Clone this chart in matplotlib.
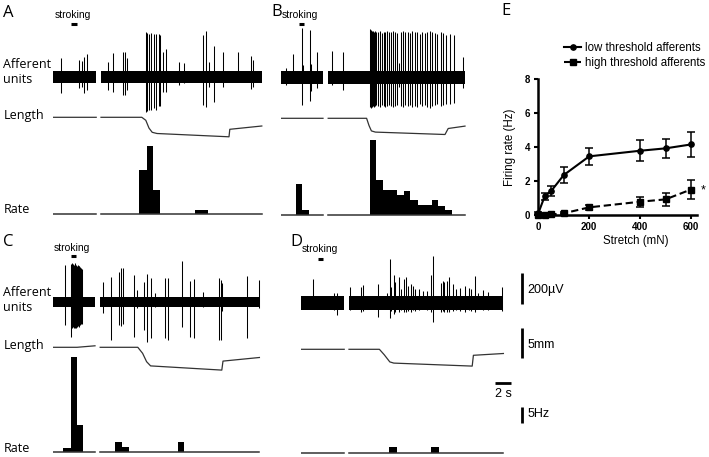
import matplotlib.pyplot as plt
import numpy as np

plt.rcParams['font.family'] = ['Liberation Sans', 'DejaVu Sans']
LABEL_FONT = ['Open Sans', 'DejaVu Sans']

# ---------------- data ----------------
# panel A  (time in s, spikes in uV, length in mm, rate in Hz)
a_segments = [(0.0, 5.4), (6.0, 26.1)]
a_stroke = (2.25, 2.95)
a_spike_t = [1.0, 3.25, 3.6, 3.9, 4.25,
             6.9, 7.5, 8.75, 9.0, 9.25,
             11.6, 11.8, 12.05, 12.3, 12.6, 12.9, 13.2, 13.4,
             13.75, 14.1, 15.75, 16.4, 18.75, 19.1, 19.5, 20.1, 21.25, 23.1, 24.75, 25.0]
a_spike_up = [125, 110, 105, 130, 150,
              95, 155, 160, 160, 125,
              290, 285, 280, 285, 280, 275, 280, 270,
              160, 180, 95, 90, 270, 295, 95, 200, 160, 160, 135, 110]
a_spike_dn = [-105, -70, -65, -105, -85,
              -85, -95, -115, -115, -85,
              -225, -220, -210, -215, -200, -210, -190, -185,
              -95, -95, -50, -40, -180, -195, -65, -160, -65, -35, -75, -65]
a_len_t = [0.0, 5.4, np.nan, 6.0, 11.1, 11.6, 12.0, 12.4, 13.0, 22.0, 22.1, 26.1]
a_len_mm = [0, 0, np.nan, 0, 0, -0.5, -1.8, -2.5, -2.7, -3.25, -2.0, -1.45]
a_rate_edges = [10.75, 11.75, 12.5, 13.4, 17.75, 19.4]
a_rate_hz = [13.2, 20.4, 7.2, 0, 1.2]

# panel B
b_segments = [(0.0, 5.25), (5.9, 23.0)]
b_stroke = (2.25, 2.9)
b_spike_t = [0.66, 1.5, 2.6, 2.75, 3.6, 3.8, 4.55, 6.4, 7.75,
             11.08, 11.2, 11.33, 11.46, 11.58, 11.71, 11.92, 12.13, 12.33, 12.63,
             12.88, 13.04, 13.25, 13.5, 13.79, 14.0, 14.21, 14.46, 14.71, 14.96,
             15.25, 15.54, 15.88, 16.13, 16.38, 16.71, 17.04, 17.33, 17.63, 17.96,
             18.25, 18.58, 18.88, 19.21, 19.54, 19.96, 20.25, 20.67, 21.08, 21.63,
             22.75]
b_spike_up = [60, 150, 315, 80, 305, 85, 165, 170, 160,
              310, 305, 300, 300, 295, 300, 290, 295, 300, 285,
              290, 295, 300, 290, 295, 300, 290, 285, 90, 295,
              300, 290, 295, 285, 300, 290, 295, 280, 290, 285,
              295, 300, 290, 285, 280, 290, 285, 275, 280, 270,
              130]
b_spike_dn = [-50, -20, -180, -30, -150, -90, -70, -50, -85,
              -190, -195, -190, -185, -190, -185, -180, -185, -190, -180,
              -185, -190, -185, -180, -185, -190, -185, -180, -60, -185,
              -190, -180, -185, -180, -190, -185, -190, -175, -185, -180,
              -190, -195, -185, -180, -175, -185, -180, -170, -175, -165,
              -70]
b_len_t = [0.0, 5.25, np.nan, 5.9, 10.7, 11.0, 11.3, 11.8, 20.5, 20.9, 23.0]
b_len_mm = [0, 0, np.nan, 0, 0, -1.2, -2.1, -2.3, -2.7, -1.7, -1.3]
b_rate_edges = [1.9, 2.6, 3.5, 11.1, 11.9, 12.75, 14.5, 15.4, 16.1, 17.1, 18.9, 19.6, 20.5, 21.4]
b_rate_hz = [9.3, 1.5, 0, 22.5, 10.5, 7.5, 6.0, 7.2, 4.5, 3.0, 4.5, 2.7, 1.5]

# panel C
c_segments = [(0.0, 5.25), (5.9, 25.8)]
c_stroke = (2.2, 2.9)
c_spike_t = [1.5, 2.2, 2.3, 2.4, 2.5, 2.6, 2.7, 2.8, 2.9, 3.0, 3.1, 3.2, 3.3, 3.4, 3.5, 3.6,
             6.2, 7.25, 8.29, 8.5, 8.79, 10.17, 10.46, 11.4, 11.79, 12.25, 12.75,
             14.0, 14.4, 16.1, 17.1, 17.6, 18.8, 20.7, 20.96, 21.1, 24.2, 25.7]
c_spike_up = [240, 235, 245, 250, 245, 240, 250, 245, 240, 235, 240, 230, 235, 225, 220, 210,
              127, 163, 195, 217, 220, 174, 77, 131, 180, 157, 56,
              153, 153, 265, 135, 148, 66, 157, 142, 122, 170, 142]
c_spike_dn = [-150, -160, -225, -165, -160, -165, -160, -170, -165, -160, -155, -160, -150, -150, -145, -140,
              -73, -245, -148, -155, -140, -224, -40, -180, -255, -235, -35,
              -235, -245, -160, -224, -235, -35, -245, -245, -60, -235, -40]
c_len_t = [0.0, 3.0, 5.25, np.nan, 5.9, 10.6, 11.2, 11.7, 12.2, 21.1, 21.25, 25.8]
c_len_mm = [0, 0, 0.25, np.nan, 0, 0, -1.0, -2.4, -3.1, -3.8, -2.3, -1.7]
c_rate_edges = [1.2, 2.2, 2.95, 3.8, 7.75, 8.6, 9.5, 15.6, 16.4]
c_rate_hz = [1.0, 28.5, 8.0, 0, 2.8, 1.3, 0, 2.8]

# panel D
d_segments = [(0.0, 5.4), (6.0, 25.3)]
d_stroke = (2.1, 2.8)
d_spike_t = [1.54, 3.0, 4.17, 4.5,
             6.1, 7.5, 7.7, 9.6, 10.7, 11.1, 11.3, 11.6, 11.8, 12.2,
             12.5, 12.85, 13.1, 13.4, 13.75, 14.0, 14.3, 14.7, 15.3, 15.7,
             16.3, 16.55, 17.5, 17.7, 17.9, 18.2, 18.5, 19.0, 19.4, 19.9,
             20.5, 21.0, 21.3, 21.75, 22.1, 22.7, 23.4, 24.3, 25.1]
d_spike_up = [155, 45, 65, 65,
              105, 106, 114, 120, 65, 284, 105, 180, 137, 170,
              90, 155, 165, 110, 120, 110, 90, 90, 75, 80,
              180, 300, 130, 140, 135, 145, 165, 120, 90, 95,
              110, 95, 90, 175, 65, 85, 70, 45, 105]
d_spike_dn = [-40, -35, -45, -75,
              -45, -60, -50, -88, -40, -95, -50, -70, -55, -60,
              -45, -55, -60, -50, -55, -45, -50, -45, -40, -45,
              -60, -120, -55, -50, -60, -55, -60, -50, -45, -50,
              -55, -45, -50, -60, -40, -45, -45, -40, -50]
d_len_t = [0.0, 5.4, np.nan, 6.0, 9.8, 10.4, 11.1, 11.6, 21.4, 21.55, 25.3]
d_len_mm = [0, 0, np.nan, 0, 0, -0.9, -2.1, -2.3, -2.8, -1.0, -0.7]
d_rate_edges = [11.0, 12.0, 16.25, 17.2]
d_rate_hz = [1.8, 0, 1.8]

# scale bars
scale_uv, scale_mm, scale_s, scale_hz = 200, 5, 2, 5

# panel E
stretch = [0, 25, 50, 100, 200, 400, 500, 600]
low_mean = [0.1, 1.1, 1.4, 2.35, 3.45, 3.78, 3.92, 4.15]
low_err = [0.05, 0.2, 0.3, 0.45, 0.5, 0.62, 0.58, 0.75]
high_mean = [0.0, 0.02, 0.03, 0.1, 0.45, 0.78, 0.92, 1.5]
high_err = [0.0, 0.02, 0.02, 0.05, 0.15, 0.28, 0.4, 0.58]

# ---------------- layout (pixels) ----------------
W, H = 709, 457
PX_S = 8.0          # px per second
UV_PX = 6.45        # uV per px
MM_PX = 1 / 6.0     # mm per px
HZ_PX = 0.3         # Hz per px
T_SPAN = 30

fig = plt.figure(figsize=(W / 100, H / 100), dpi=100)


def ftext(x, y, s, **kw):
    return fig.text(x / W, 1 - y / H, s, **kw)


def row_axes(x0, y_base, px_above, px_below, per_px):
    ax = fig.add_axes([x0 / W, 1 - (y_base + px_below) / H,
                       T_SPAN * PX_S / W, (px_above + px_below) / H])
    ax.set_xlim(0, T_SPAN)
    ax.set_ylim(-px_below * per_px, px_above * per_px)
    ax.axis('off')
    return ax


def draw_panel(p, segs, stroke, sp_t, sp_up, sp_dn, len_t, len_mm, r_edges, r_hz):
    ax_u = row_axes(p['x0'], p['yu'], 62, 45, UV_PX)
    for t0, t1 in segs:
        ax_u.fill_between([t0, t1], -p['noise'], p['noise'], color='black', lw=0)
    ax_u.vlines(sp_t, sp_dn, sp_up, color='black', lw=0.75)
    ys = (p['yu'] - p['stroke_y']) * UV_PX
    ax_u.plot(stroke, [ys, ys], color='black', lw=2.2, solid_capstyle='butt')

    ax_l = row_axes(p['x0'], p['yl'], 25, 30, MM_PX)
    ax_l.plot(len_t, len_mm, color='#333333', lw=0.9)

    ax_r = row_axes(p['x0'], p['yr'], 100, 4, HZ_PX)
    for t0, t1 in segs:
        ax_r.plot([t0, t1], [0, 0], color='#333333', lw=1.1)
    ax_r.stairs(r_hz, r_edges, fill=True, color='black', lw=0)
    return ax_u, ax_l, ax_r


pA = dict(x0=53, yu=77, yl=117.3, yr=214, noise=40, stroke_y=24)
pB = dict(x0=281, yu=77.3, yl=118.3, yr=215, noise=41, stroke_y=24)
pC = dict(x0=53, yu=302, yl=347.3, yr=451.7, noise=35, stroke_y=256)
pD = dict(x0=301, yu=303, yl=349.3, yr=453.3, noise=43, stroke_y=259)

draw_panel(pA, a_segments, a_stroke, a_spike_t, a_spike_up, a_spike_dn,
           a_len_t, a_len_mm, a_rate_edges, a_rate_hz)
draw_panel(pB, b_segments, b_stroke, b_spike_t, b_spike_up, b_spike_dn,
           b_len_t, b_len_mm, b_rate_edges, b_rate_hz)
draw_panel(pC, c_segments, c_stroke, c_spike_t, c_spike_up, c_spike_dn,
           c_len_t, c_len_mm, c_rate_edges, c_rate_hz)
axDu, axDl, axDr = draw_panel(pD, d_segments, d_stroke, d_spike_t, d_spike_up, d_spike_dn,
                              d_len_t, d_len_mm, d_rate_edges, d_rate_hz)

# scale bars (drawn in panel D's units)
tb = (522.3 - pD['x0']) / PX_S
v0 = (pD['yu'] - 304) * UV_PX
axDu.plot([tb, tb], [v0, v0 + scale_uv], color='black', lw=2, clip_on=False, solid_capstyle='butt')
m0 = (pD['yl'] - 358.3) * MM_PX
axDl.plot([tb, tb], [m0, m0 + scale_mm], color='black', lw=2, clip_on=False, solid_capstyle='butt')
h0 = (pD['yr'] - 423.3) * HZ_PX
axDr.plot([tb, tb], [h0, h0 + scale_hz], color='black', lw=2, clip_on=False, solid_capstyle='butt')
s0 = (495 - pD['x0']) / PX_S
hs = (pD['yr'] - 382.7) * HZ_PX
axDr.plot([s0, s0 + scale_s], [hs, hs], color='black', lw=2, clip_on=False, solid_capstyle='butt')

ftext(527.3, 293.5, '%d\u00b5V' % scale_uv, fontsize=9, va='baseline')
ftext(527.3, 348.3, '%dmm' % scale_mm, fontsize=9, va='baseline')
ftext(503, 396.7, '%d s' % scale_s, fontsize=9, va='baseline', ha='center')
ftext(527.3, 416.7, '%dHz' % scale_hz, fontsize=9, va='baseline')

# panel letters and row labels
for x, y, s in [(3.3, 16.7, 'A'), (271.7, 16.2, 'B'), (2.7, 246, 'C'), (290, 246, 'D'), (501, 15, 'E')]:
    ftext(x, y, s, fontsize=12, family=LABEL_FONT, va='baseline')

for x, y, s in [(55, 18.5, 'stroking'), (281.7, 18.5, 'stroking'),
                (54, 250.5, 'stroking'), (301.7, 252, 'stroking')]:
    ftext(x, y, s, fontsize=7.5, va='baseline')

for base in [0, 228]:
    ftext(3.3, 68.3 + base, 'Afferent', fontsize=9, family=LABEL_FONT, va='baseline')
    ftext(3.3, 83.3 + base, 'units', fontsize=9, family=LABEL_FONT, va='baseline')
ftext(3.3, 118.5, 'Length', fontsize=9, family=LABEL_FONT, va='baseline')
ftext(3.3, 348.5, 'Length', fontsize=9, family=LABEL_FONT, va='baseline')
ftext(3.3, 213.3, 'Rate', fontsize=9, family=LABEL_FONT, va='baseline')
ftext(3.3, 451.7, 'Rate', fontsize=9, family=LABEL_FONT, va='baseline')

# ---------------- panel E ----------------
ex0, ey0, ey1 = 538.3, 215, 79
px_mn = 0.2545
ax_e = fig.add_axes([ex0 / W, 1 - ey0 / H, 622 * px_mn / W, (ey0 - ey1) / H])
low = ax_e.errorbar(stretch, low_mean, yerr=low_err, fmt='-o', color='black', lw=1.5,
                    ms=3.8, capsize=3, elinewidth=1.1, capthick=1.1)
high = ax_e.errorbar(stretch, high_mean, yerr=high_err, fmt='--s', color='black', lw=1.5,
                     ms=4.2, capsize=3, elinewidth=1.1, capthick=1.1, dashes=(3.5, 1.8))
ax_e.annotate('*', xy=(stretch[-1], high_mean[-1]), xytext=(7, -1), textcoords='offset points',
              fontsize=9, va='center')
ax_e.set_xlim(0, 622)
ax_e.set_ylim(0, 8)
ax_e.set_xticks([0, 200, 400, 600])
ax_e.set_yticks([0, 2, 4, 6, 8])
for side in ['top', 'right']:
    ax_e.spines[side].set_visible(False)
for side in ['left', 'bottom']:
    ax_e.spines[side].set_linewidth(1.8)
ax_e.tick_params(width=1.5, length=3, labelsize=7)
ax_e.tick_params(axis='y', pad=3)
ax_e.tick_params(axis='x', pad=2)
for lab in ax_e.get_xticklabels() + ax_e.get_yticklabels():
    lab.set_fontweight('bold')
for art in ax_e.get_children():
    art.set_clip_on(False)
ax_e.set_ylabel('Firing rate (Hz)', fontsize=8.3)
ax_e.yaxis.set_label_coords(-0.141, 0.5)
ax_e.set_xlabel('Stretch (mN)', fontsize=8.3)
ax_e.xaxis.set_label_coords(0.616, -0.19)
ax_e.xaxis.label.set_va('center')
ax_e.legend([low[0], high[0]], ['low threshold afferents', 'high threshold afferents'],
            loc='upper left', bbox_to_anchor=(564 / W, 1 - 42 / H), bbox_transform=fig.transFigure,
            frameon=False, fontsize=8.3, handlelength=1.5, handletextpad=0.3,
            labelspacing=0.3, borderpad=0, borderaxespad=0)

fig.savefig('out.png', dpi=100)
